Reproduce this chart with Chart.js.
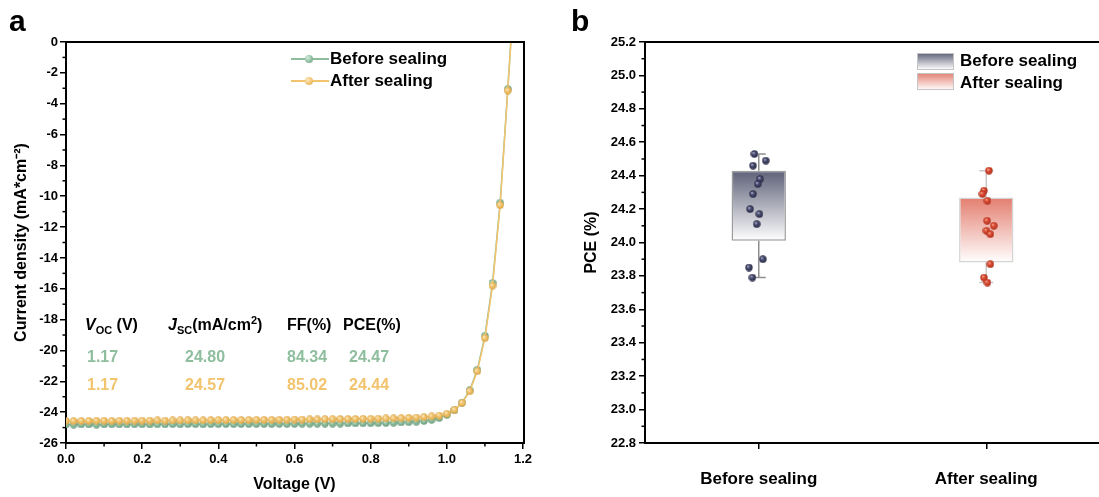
<!DOCTYPE html>
<html>
<head>
<meta charset="utf-8">
<script src="https://cdn.jsdelivr.net/npm/chart.js@4.4.0/dist/chart.umd.min.js"></script>
<style>
  body { margin: 0; background: #fff; font-family: "Liberation Sans", Arial, sans-serif; }
  #page { position: relative; width: 1099px; height: 497px; overflow: hidden; }
  canvas { position: absolute; top: 0; }
  .txt { position: absolute; font-weight: bold; white-space: nowrap; line-height: 1; font-size: 16px; color: #000; }
  .leg { font-size: 17px; }
  .panel { font-size: 30px; }
  .it { font-style: italic; }
  sub, sup { font-size: 11px; line-height: 0; }
  .leg-line { position: absolute; height: 2px; width: 38px; }
  .leg-dot { position: absolute; width: 8px; height: 8px; border-radius: 50%; }
  .swatch { position: absolute; width: 37px; height: 17px; border: 1px solid #c4c4c4; box-sizing: border-box; }
</style>
</head>
<body>
<div id="page">
  <canvas id="jv" width="550" height="497" style="left:0"></canvas>
  <canvas id="pce" width="545" height="497" style="left:560px"></canvas>

  <div class="txt panel" style="left:9px; top:6px">a</div>
  <div class="txt panel" style="left:571px; top:6px">b</div>

  <!-- legend a -->
  <div class="leg-line" style="left:291px; top:58px; background:#8fbe9e"></div>
  <div class="leg-dot" style="left:305px; top:55px; background:radial-gradient(circle at 35% 35%, #d6ecdd, #8fbe9e 55%, #6f9e80)"></div>
  <div class="txt leg" style="left:330px; top:50px">Before sealing</div>
  <div class="leg-line" style="left:291px; top:80px; background:#f2c46e"></div>
  <div class="leg-dot" style="left:305px; top:77px; background:radial-gradient(circle at 35% 35%, #fbe9c4, #f2c46e 55%, #d9a648)"></div>
  <div class="txt leg" style="left:330px; top:72px">After sealing</div>

  <!-- table a -->
  <div class="txt" style="left:85px; top:317px"><span class="it">V</span><sub>OC</sub> (V)</div>
  <div class="txt" style="left:168px; top:317px"><span class="it">J</span><sub>SC</sub>(mA/cm<sup>2</sup>)</div>
  <div class="txt" style="left:287px; top:317px">FF(%)</div>
  <div class="txt" style="left:343px; top:317px">PCE(%)</div>
  <div id="table"></div>

  <!-- legend b -->
  <div class="swatch" style="left:917px; top:53px; background:linear-gradient(#686b80, #fafafc)"></div>
  <div class="txt leg" style="left:960px; top:52px">Before sealing</div>
  <div class="swatch" style="left:917px; top:73px; background:linear-gradient(#e5877a, #fdf7f6)"></div>
  <div class="txt leg" style="left:960px; top:74px">After sealing</div>
</div>

<script>
// ---- panel a : J-V curves ----
const voltage = [0.00, 0.02, 0.04, 0.06, 0.08, 0.10, 0.12, 0.14, 0.16, 0.18,
  0.20, 0.22, 0.24, 0.26, 0.28, 0.30, 0.32, 0.34, 0.36, 0.38,
  0.40, 0.42, 0.44, 0.46, 0.48, 0.50, 0.52, 0.54, 0.56, 0.58,
  0.60, 0.62, 0.64, 0.66, 0.68, 0.70, 0.72, 0.74, 0.76, 0.78,
  0.80, 0.82, 0.84, 0.86, 0.88, 0.90, 0.92, 0.94, 0.96, 0.98,
  1.00, 1.02, 1.04, 1.06, 1.08, 1.10, 1.12, 1.14, 1.16, 1.18];
const jBefore = [-24.80, -24.81, -24.80, -24.80, -24.81, -24.80, -24.79, -24.80, -24.80, -24.79,
  -24.79, -24.80, -24.79, -24.79, -24.78, -24.79, -24.78, -24.78, -24.79, -24.78,
  -24.78, -24.77, -24.78, -24.77, -24.77, -24.77, -24.76, -24.77, -24.76, -24.76,
  -24.76, -24.75, -24.75, -24.75, -24.74, -24.74, -24.74, -24.73, -24.73, -24.72,
  -24.72, -24.71, -24.70, -24.69, -24.67, -24.65, -24.62, -24.57, -24.50, -24.38,
  -24.18, -23.88, -23.38, -22.58, -21.25, -19.05, -15.62, -10.42, -3.05, 4.6];
const jAfter = [-24.57, -24.58, -24.57, -24.57, -24.56, -24.56, -24.57, -24.56, -24.56, -24.55,
  -24.55, -24.55, -24.54, -24.55, -24.54, -24.54, -24.53, -24.53, -24.53, -24.52,
  -24.52, -24.52, -24.51, -24.51, -24.51, -24.50, -24.50, -24.50, -24.49, -24.49,
  -24.48, -24.48, -24.47, -24.47, -24.46, -24.46, -24.45, -24.45, -24.44, -24.43,
  -24.43, -24.42, -24.41, -24.40, -24.39, -24.37, -24.35, -24.32, -24.28, -24.22,
  -24.10, -23.85, -23.40, -22.65, -21.35, -19.20, -15.80, -10.58, -3.15, 4.5];

// device parameters (table)
const vocVals = ["1.17", "1.17"];
const jscVals = ["24.80", "24.57"];
const ffVals = ["84.34", "85.02"];
const pceVals = ["24.47", "24.44"];

// ---- panel b : PCE box plot ----
const groups = ["Before sealing", "After sealing"];
const boxLow = [24.01, 23.88];
const boxHigh = [24.43, 24.27];
const whiskerLow = [23.79, 23.76];
const whiskerHigh = [24.53, 24.43];
const pceBefore = [24.53, 24.46, 24.49, 24.38, 24.35, 24.29, 24.20, 24.17, 24.11, 23.90, 23.85, 23.79];
const jitterBefore = [-0.019, -0.025, 0.031, 0.006, -0.004, -0.025, -0.038, 0.003, -0.009, 0.018, -0.043, -0.028];
const pceAfter = [24.43, 24.31, 24.29, 24.25, 24.13, 24.10, 24.07, 24.05, 23.87, 23.79, 23.76];
const jitterAfter = [0.012, -0.010, -0.017, 0.005, 0.004, 0.033, 0.001, 0.018, 0.018, -0.010, 0.005];

const green = "#8fbe9e";
const orange = "#f2c46e";
const boxTop = ["#5e6178", "#e37e6f"];
const boxBorder = ["#9d9d9d", "#d4d4d4"];
const whiskerColor = ["#8e8e8e", "#c9c9c9"];
const FONT = "'Liberation Sans', Arial, sans-serif";

// values rows of the table
const colLeft = [87, 185, 287, 349];
const rowTop = [349, 377];
const rowColor = [green, orange];
let html = "";
for (let r = 0; r < 2; r++) {
  [vocVals, jscVals, ffVals, pceVals].forEach((arr, c) => {
    html += `<div class="txt" style="left:${colLeft[c]}px; top:${rowTop[r]}px; color:${rowColor[r]}">${arr[r]}</div>`;
  });
}
document.getElementById("table").innerHTML = html;

// small shaded spheres used as markers
function sphere(base, light, dark, d) {
  const c = document.createElement("canvas");
  c.width = d; c.height = d;
  const g = c.getContext("2d");
  const r = d / 2;
  const grad = g.createRadialGradient(r * 0.7, r * 0.65, 0, r, r, r);
  grad.addColorStop(0, light);
  grad.addColorStop(0.45, base);
  grad.addColorStop(1, dark);
  g.fillStyle = grad;
  g.beginPath();
  g.arc(r, r, r - 0.3, 0, Math.PI * 2);
  g.fill();
  return c;
}

// minor ticks halfway between the major ones
const minorTicks = {
  id: "minorTicks",
  afterDraw(chart) {
    const ctx = chart.ctx;
    ctx.save();
    ctx.strokeStyle = "#000";
    ctx.lineWidth = 1.5;
    Object.values(chart.scales).forEach(s => {
      if (s.type !== "linear" || !s.options.display) return;
      const t = s.ticks;
      for (let i = 0; i < t.length - 1; i++) {
        const p = s.getPixelForValue((t[i].value + t[i + 1].value) / 2);
        ctx.beginPath();
        if (s.isHorizontal()) { ctx.moveTo(p, s.top); ctx.lineTo(p, s.top + 3.5); }
        else { ctx.moveTo(s.right, p); ctx.lineTo(s.right - 3.5, p); }
        ctx.stroke();
      }
    });
    ctx.restore();
  }
};

// top (and right) frame lines
const frame = {
  id: "frame",
  afterDraw(chart, args, opts) {
    const a = chart.chartArea, ctx = chart.ctx;
    ctx.save();
    ctx.strokeStyle = "#000";
    ctx.lineWidth = 2;
    ctx.beginPath();
    ctx.moveTo(a.left - 1, a.top);
    ctx.lineTo(a.right + 1, a.top);
    if (opts.right) ctx.lineTo(a.right + 1, a.bottom + 1);
    ctx.stroke();
    ctx.restore();
  }
};

function tickFont(size) {
  return { family: FONT, size: size, weight: "bold" };
}

new Chart(document.getElementById("jv"), {
  type: "line",
  data: {
    labels: voltage,
    datasets: [
      {
        label: "Before sealing",
        data: voltage.map((v, i) => ({ x: v, y: jBefore[i] })),
        borderColor: green,
        borderWidth: 1.5,
        pointStyle: sphere(green, "#dff0e4", "#6c9b7d", 8),
        order: 1,
        clip: 0
      },
      {
        label: "After sealing",
        data: voltage.map((v, i) => ({ x: v, y: jAfter[i] })),
        borderColor: orange,
        borderWidth: 1.5,
        pointStyle: sphere(orange, "#fcefd2", "#d6a245", 8),
        order: 0,
        clip: 0
      }
    ]
  },
  options: {
    responsive: false,
    animation: false,
    events: [],
    layout: { padding: { top: 42, right: 27, left: 0, bottom: 0 } },
    plugins: { legend: { display: false }, tooltip: { enabled: false }, frame: { right: true } },
    scales: {
      x: {
        type: "linear", min: 0, max: 1.2,
        afterFit: s => { s.height = 54; },
        ticks: { stepSize: 0.2, color: "#000", font: tickFont(13), padding: 3, callback: v => v.toFixed(1) },
        grid: { drawOnChartArea: false, tickLength: 6, color: "#000", lineWidth: 1.5 },
        border: { color: "#000", width: 2 },
        title: { display: true, text: "Voltage (V)", color: "#000", font: tickFont(16), padding: { top: 0, bottom: 3 } }
      },
      y: {
        min: -26, max: 0,
        afterFit: s => { s.width = 66; },
        ticks: { stepSize: 2, color: "#000", font: tickFont(13), padding: 2 },
        grid: { drawOnChartArea: false, tickLength: 6, color: "#000", lineWidth: 1.5 },
        border: { color: "#000", width: 2 },
        title: { display: true, text: "Current density (mA*cm\u207B\u00B2)", color: "#000", font: tickFont(16), padding: { top: 12, bottom: 0 } }
      }
    }
  },
  plugins: [minorTicks, frame]
});

// whiskers of the boxes
const whiskers = {
  id: "whiskers",
  beforeDatasetsDraw(chart) {
    const ctx = chart.ctx, x = chart.scales.x, y = chart.scales.y;
    ctx.save();
    ctx.lineWidth = 1.5;
    groups.forEach((g, i) => {
      const cx = x.getPixelForValue(i);
      ctx.strokeStyle = whiskerColor[i];
      ctx.beginPath();
      ctx.moveTo(cx, y.getPixelForValue(boxHigh[i]));
      ctx.lineTo(cx, y.getPixelForValue(whiskerHigh[i]));
      ctx.moveTo(cx, y.getPixelForValue(boxLow[i]));
      ctx.lineTo(cx, y.getPixelForValue(whiskerLow[i]));
      [whiskerHigh[i], whiskerLow[i]].forEach(w => {
        const py = y.getPixelForValue(w);
        ctx.moveTo(cx - 7, py);
        ctx.lineTo(cx + 7, py);
      });
      ctx.stroke();
    });
    ctx.restore();
  }
};

new Chart(document.getElementById("pce"), {
  type: "bar",
  data: {
    labels: groups,
    datasets: [
      {
        type: "scatter",
        xAxisID: "xj",
        data: pceBefore.map((v, i) => ({ x: 0 + jitterBefore[i], y: v })),
        pointStyle: sphere("#43466a", "#b8bbd6", "#2a2c45", 8),
        order: 0
      },
      {
        type: "scatter",
        xAxisID: "xj",
        data: pceAfter.map((v, i) => ({ x: 1 + jitterAfter[i], y: v })),
        pointStyle: sphere("#d9472f", "#f7b3a4", "#a8301c", 8),
        order: 0
      },
      {
        type: "bar",
        data: groups.map((g, i) => [boxLow[i], boxHigh[i]]),
        backgroundColor: ctx => {
          const i = ctx.dataIndex;
          const chart = ctx.chart;
          if (!chart.chartArea) return boxTop[i];
          const ys = chart.scales.y;
          const grad = chart.ctx.createLinearGradient(0, ys.getPixelForValue(boxHigh[i]), 0, ys.getPixelForValue(boxLow[i]));
          grad.addColorStop(0, boxTop[i]);
          grad.addColorStop(1, "#ffffff");
          return grad;
        },
        borderColor: boxBorder,
        borderWidth: 1.5,
        borderSkipped: false,
        grouped: false,
        barPercentage: 0.239,
        categoryPercentage: 1,
        order: 2
      }
    ]
  },
  options: {
    responsive: false,
    animation: false,
    events: [],
    layout: { padding: { top: 42, right: 0, left: 0, bottom: 0 } },
    plugins: { legend: { display: false }, tooltip: { enabled: false }, frame: { right: false } },
    scales: {
      x: {
        type: "category", offset: true,
        afterFit: s => { s.height = 54; },
        ticks: { color: "#000", font: tickFont(17), padding: 20 },
        grid: { drawOnChartArea: false, offset: false, tickLength: 6, color: "#000", lineWidth: 1.5 },
        border: { color: "#000", width: 2 }
      },
      xj: { type: "linear", min: -0.5, max: 1.5, offset: false, display: false, grid: { offset: false } },
      y: {
        min: 22.8, max: 25.2,
        afterFit: s => { s.width = 85; },
        ticks: { stepSize: 0.2, color: "#000", font: tickFont(13), padding: 3, callback: v => v.toFixed(1) },
        grid: { drawOnChartArea: false, tickLength: 6, color: "#000", lineWidth: 1.5 },
        border: { color: "#000", width: 2 },
        title: { display: true, text: "PCE (%)", color: "#000", font: tickFont(16), padding: { top: 22, bottom: 0 } }
      }
    }
  },
  plugins: [minorTicks, frame, whiskers]
});
</script>
</body>
</html>
